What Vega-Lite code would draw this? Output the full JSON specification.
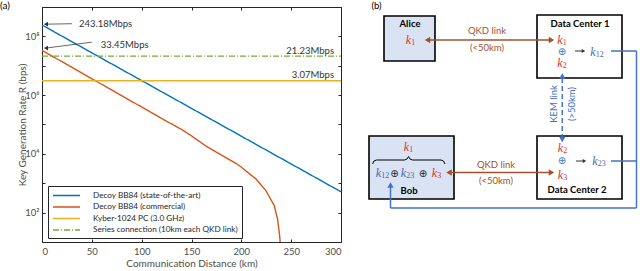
{
  "$schema": "https://vega.github.io/schema/vega-lite/v6.json",
  "background": "white",
  "padding": {"left": 0, "top": 1, "right": 0, "bottom": 0},
  "bounds": "flush",
  "spacing": 4,
  "config": {"view": {"stroke": null}, "font": "Lato"},
  "hconcat": [
    {
      "width": 299,
      "height": 235,
      "title": {"text": "(a)", "anchor": "start", "frame": "group", "dx": -42, "dy": 9, "fontSize": 10, "fontWeight": "normal", "font": "Lato", "color": "#000000", "offset": 0},
      "resolve": {"axis": {"x": "independent", "y": "independent"}},
      "layer": [
        {
          "data": {"values": [
            {"d": 0, "r": 243180000, "s": "Decoy BB84 (state-of-the-art)"},
            {"d": 50, "r": 27540000, "s": "Decoy BB84 (state-of-the-art)"},
            {"d": 100, "r": 3119000, "s": "Decoy BB84 (state-of-the-art)"},
            {"d": 150, "r": 353200, "s": "Decoy BB84 (state-of-the-art)"},
            {"d": 200, "r": 40000, "s": "Decoy BB84 (state-of-the-art)"},
            {"d": 250, "r": 4530, "s": "Decoy BB84 (state-of-the-art)"},
            {"d": 300, "r": 513, "s": "Decoy BB84 (state-of-the-art)"},
            {"d": 0, "r": 33450000, "s": "Decoy BB84 (commercial)"},
            {"d": 25, "r": 11000000, "s": "Decoy BB84 (commercial)"},
            {"d": 50, "r": 3620000, "s": "Decoy BB84 (commercial)"},
            {"d": 75, "r": 1190000, "s": "Decoy BB84 (commercial)"},
            {"d": 100, "r": 393000, "s": "Decoy BB84 (commercial)"},
            {"d": 125, "r": 129000, "s": "Decoy BB84 (commercial)"},
            {"d": 140, "r": 68000, "s": "Decoy BB84 (commercial)"},
            {"d": 150, "r": 41000, "s": "Decoy BB84 (commercial)"},
            {"d": 165, "r": 18000, "s": "Decoy BB84 (commercial)"},
            {"d": 178, "r": 10000, "s": "Decoy BB84 (commercial)"},
            {"d": 190, "r": 5800, "s": "Decoy BB84 (commercial)"},
            {"d": 198, "r": 4000, "s": "Decoy BB84 (commercial)"},
            {"d": 207, "r": 2270, "s": "Decoy BB84 (commercial)"},
            {"d": 214.5, "r": 1420, "s": "Decoy BB84 (commercial)"},
            {"d": 220, "r": 860, "s": "Decoy BB84 (commercial)"},
            {"d": 224.5, "r": 570, "s": "Decoy BB84 (commercial)"},
            {"d": 229, "r": 303, "s": "Decoy BB84 (commercial)"},
            {"d": 233, "r": 176, "s": "Decoy BB84 (commercial)"},
            {"d": 235, "r": 91, "s": "Decoy BB84 (commercial)"},
            {"d": 236.3, "r": 62, "s": "Decoy BB84 (commercial)"},
            {"d": 237.2, "r": 35, "s": "Decoy BB84 (commercial)"},
            {"d": 238, "r": 22, "s": "Decoy BB84 (commercial)"},
            {"d": 238.8, "r": 12, "s": "Decoy BB84 (commercial)"},
            {"d": 239.2, "r": 6, "s": "Decoy BB84 (commercial)"},
            {"d": 0, "r": 3070000, "s": "Kyber-1024 PC (3.0 GHz)"},
            {"d": 300, "r": 3070000, "s": "Kyber-1024 PC (3.0 GHz)"},
            {"d": 0, "r": 21230000, "s": "Series connection (10km each QKD link)"},
            {"d": 300, "r": 21230000, "s": "Series connection (10km each QKD link)"}
          ]},
          "mark": {"type": "line", "clip": true},
          "encoding": {
            "x": {"field": "d", "type": "quantitative", "scale": {"domain": [0, 300], "nice": false, "zero": false},
              "axis": {"orient": "bottom", "values": [0, 50, 100, 150, 200, 250, 300], "title": "Communication Distance (km)", "tickSize": -3, "labelPadding": 7, "labelFontSize": 9.5, "titleFontSize": 10, "titleFontWeight": "normal", "labelColor": "#4d4d4d", "titleColor": "#4d4d4d", "domainColor": "#262626", "tickColor": "#262626", "grid": false, "titlePadding": 3, "labelFont": "Lato", "titleFont": "Lato"}},
            "y": {"field": "r", "type": "quantitative", "scale": {"type": "log", "domain": [10, 1000000000], "nice": false},
              "axis": {"orient": "left", "values": [10, 100, 1000, 10000, 100000, 1000000, 10000000, 100000000, 1000000000], "labelExpr": "datum.value==100?'10²':datum.value==10000?'10⁴':datum.value==1000000?'10⁶':datum.value==100000000?'10⁸':''", "labelOverlap": false, "title": "Key Generation Rate R (bps)", "tickSize": -3, "labelPadding": 6, "labelFontSize": 9.5, "titleFontSize": 10, "titleFontWeight": "normal", "labelColor": "#4d4d4d", "titleColor": "#4d4d4d", "domainColor": "#262626", "tickColor": "#262626", "grid": false, "titlePadding": -3, "labelFont": "Lato", "titleFont": "Lato"}},
            "color": {"field": "s", "type": "nominal",
              "scale": {"domain": ["Decoy BB84 (state-of-the-art)", "Decoy BB84 (commercial)", "Kyber-1024 PC (3.0 GHz)", "Series connection (10km each QKD link)"], "range": ["#0072bd", "#d95319", "#edb120", "#77ac30"]},
              "legend": {"title": null, "orient": "none", "legendX": 6, "legendY": 179, "symbolType": "M-3,0H3", "symbolSize": 81, "symbolOffset": 9, "labelOffset": 21, "labelFontSize": 8.2, "labelFont": "Lato", "labelColor": "#262626", "strokeColor": "#262626", "fillColor": "white", "padding": 4, "rowPadding": 2.5, "symbolStrokeWidth": 1.6, "labelLimit": 300}},
            "strokeDash": {"field": "s", "type": "nominal",
              "scale": {"domain": ["Decoy BB84 (state-of-the-art)", "Decoy BB84 (commercial)", "Kyber-1024 PC (3.0 GHz)", "Series connection (10km each QKD link)"], "range": [[1, 0], [1, 0], [1, 0], [6, 2, 1, 2]]},
              "legend": {"title": null}},
            "strokeWidth": {"field": "s", "type": "nominal",
              "scale": {"domain": ["Decoy BB84 (state-of-the-art)", "Decoy BB84 (commercial)", "Kyber-1024 PC (3.0 GHz)", "Series connection (10km each QKD link)"], "range": [1.4, 1.4, 2, 1.2]},
              "legend": null}
          }
        },
        {
          "data": {"values": [
            {"d": 30, "r": 270000000, "d2": 4, "r2": 260000000},
            {"d": 50, "r": 63500000, "d2": 4, "r2": 40000000}
          ]},
          "mark": {"type": "rule", "color": "#404040", "strokeWidth": 0.8},
          "encoding": {
            "x": {"field": "d", "type": "quantitative", "axis": {"orient": "top", "values": [0, 50, 100, 150, 200, 250, 300], "labels": false, "tickSize": -3, "title": null, "domainColor": "#262626", "tickColor": "#262626", "grid": false}},
            "y": {"field": "r", "type": "quantitative", "axis": {"orient": "right", "values": [10, 100, 1000, 10000, 100000, 1000000, 10000000, 100000000, 1000000000], "labels": false, "tickSize": -3, "title": null, "domainColor": "#262626", "tickColor": "#262626", "grid": false}},
            "x2": {"field": "d2"},
            "y2": {"field": "r2"}
          }
        },
        {
          "data": {"values": [
            {"d": 4, "r": 260000000},
            {"d": 4, "r": 40000000}
          ]},
          "mark": {"type": "point", "shape": "triangle-left", "filled": true, "size": 22, "color": "#303030", "opacity": 1},
          "encoding": {
            "x": {"field": "d", "type": "quantitative", "axis": null},
            "y": {"field": "r", "type": "quantitative", "axis": null}
          }
        },
        {
          "data": {"values": [
            {"d": 37, "r": 266000000, "t": "243.18Mbps"},
            {"d": 59, "r": 52600000, "t": "33.45Mbps"}
          ]},
          "mark": {"type": "text", "align": "left", "baseline": "middle", "fontSize": 9.5, "font": "Lato", "color": "#333333"},
          "encoding": {
            "x": {"field": "d", "type": "quantitative", "axis": null},
            "y": {"field": "r", "type": "quantitative", "axis": null},
            "text": {"field": "t"}
          }
        },
        {
          "data": {"values": [
            {"d": 293, "r": 31400000, "t": "21.23Mbps"},
            {"d": 293, "r": 5000000, "t": "3.07Mbps"}
          ]},
          "mark": {"type": "text", "align": "right", "baseline": "middle", "fontSize": 9.5, "font": "Lato", "color": "#333333"},
          "encoding": {
            "x": {"field": "d", "type": "quantitative", "axis": null},
            "y": {"field": "r", "type": "quantitative", "axis": null},
            "text": {"field": "t"}
          }
        }
      ]
    },
    {
      "width": 294,
      "height": 263,
      "layer": [
        {
          "data": {"values": [
            {"x": 385, "x2": 436, "y": 17, "y2": 62, "f": "#dae3f3"},
            {"x": 538, "x2": 623, "y": 16, "y2": 79, "f": "#ffffff"},
            {"x": 370, "x2": 455, "y": 137, "y2": 200, "f": "#dae3f3"},
            {"x": 538, "x2": 623, "y": 137, "y2": 200, "f": "#ffffff"}
          ]},
          "mark": {"type": "rect", "stroke": "#000000", "strokeWidth": 1.6},
          "encoding": {
            "x": {"field": "x", "type": "quantitative", "scale": {"domain": [346, 640], "nice": false, "zero": false}, "axis": null},
            "x2": {"field": "x2"},
            "y": {"field": "y", "type": "quantitative", "scale": {"domain": [8, 271], "reverse": true, "nice": false, "zero": false}, "axis": null},
            "y2": {"field": "y2"},
            "fill": {"field": "f", "type": "nominal", "scale": null}
          }
        },
        {
          "data": {"values": [
            {"x": 430, "y": 41, "x2": 551, "y2": 41, "c": "#a0522d", "w": 1.6},
            {"x": 452, "y": 173.5, "x2": 551, "y2": 173.5, "c": "#a0522d", "w": 1.6},
            {"x": 612, "y": 52, "x2": 637.5, "y2": 52, "c": "#4472c4", "w": 1.5},
            {"x": 637.5, "y": 52, "x2": 637.5, "y2": 209, "c": "#4472c4", "w": 1.5},
            {"x": 637.5, "y": 209, "x2": 391.5, "y2": 209, "c": "#4472c4", "w": 1.5},
            {"x": 391.5, "y": 209, "x2": 391.5, "y2": 188, "c": "#4472c4", "w": 1.5},
            {"x": 612, "y": 162, "x2": 637.5, "y2": 162, "c": "#4472c4", "w": 1.5},
            {"x": 576, "y": 52, "x2": 583, "y2": 52, "c": "#333333", "w": 1},
            {"x": 577, "y": 162, "x2": 584, "y2": 162, "c": "#333333", "w": 1}
          ]},
          "mark": {"type": "rule"},
          "encoding": {
            "x": {"field": "x", "type": "quantitative"},
            "y": {"field": "y", "type": "quantitative"},
            "x2": {"field": "x2"},
            "y2": {"field": "y2"},
            "color": {"field": "c", "type": "nominal", "scale": null},
            "strokeWidth": {"field": "w", "type": "quantitative", "scale": null}
          }
        },
        {
          "data": {"values": [
            {"x": 563.3, "y": 79, "x2": 563.3, "y2": 138}
          ]},
          "mark": {"type": "rule", "color": "#4472c4", "strokeWidth": 1.5, "strokeDash": [5, 3]},
          "encoding": {
            "x": {"field": "x", "type": "quantitative"},
            "y": {"field": "y", "type": "quantitative"},
            "x2": {"field": "x2"},
            "y2": {"field": "y2"}
          }
        },
        {
          "data": {"values": [
            {"x": 373.5, "y": 165, "o": 1},
            {"x": 375, "y": 162, "o": 2},
            {"x": 377.5, "y": 161, "o": 3},
            {"x": 405.5, "y": 161, "o": 4},
            {"x": 408, "y": 160, "o": 5},
            {"x": 409.5, "y": 157.5, "o": 6},
            {"x": 411, "y": 160, "o": 7},
            {"x": 413.5, "y": 161, "o": 8},
            {"x": 442, "y": 161, "o": 9},
            {"x": 444.5, "y": 162, "o": 10},
            {"x": 446, "y": 165, "o": 11}
          ]},
          "mark": {"type": "line", "color": "#000000", "strokeWidth": 1},
          "encoding": {
            "x": {"field": "x", "type": "quantitative"},
            "y": {"field": "y", "type": "quantitative"},
            "order": {"field": "o", "type": "quantitative"}
          }
        },
        {
          "data": {"values": [
            {"x": 428.5, "y": 41, "s": "triangle-left", "c": "#a0522d", "z": 40},
            {"x": 552.5, "y": 41, "s": "triangle-right", "c": "#a0522d", "z": 40},
            {"x": 450, "y": 173.5, "s": "triangle-left", "c": "#a0522d", "z": 40},
            {"x": 552.5, "y": 173.5, "s": "triangle-right", "c": "#a0522d", "z": 40},
            {"x": 563.3, "y": 77, "s": "triangle-up", "c": "#4472c4", "z": 40},
            {"x": 563.3, "y": 140.5, "s": "triangle-down", "c": "#4472c4", "z": 40},
            {"x": 391.5, "y": 186, "s": "triangle-up", "c": "#4472c4", "z": 40},
            {"x": 584.5, "y": 52, "s": "triangle-right", "c": "#333333", "z": 16},
            {"x": 585.5, "y": 162, "s": "triangle-right", "c": "#333333", "z": 16}
          ]},
          "mark": {"type": "point", "filled": true, "opacity": 1},
          "encoding": {
            "x": {"field": "x", "type": "quantitative"},
            "y": {"field": "y", "type": "quantitative"},
            "shape": {"field": "s", "type": "nominal", "scale": null},
            "color": {"field": "c", "type": "nominal", "scale": null},
            "size": {"field": "z", "type": "quantitative", "scale": null}
          }
        },
        {
          "data": {"values": [
            {"x": 377.5, "y": 7, "t": "(b)", "c": "#000000"},
            {"x": 488, "y": 32, "t": "QKD link", "c": "#a0522d"},
            {"x": 488, "y": 49, "t": "(<50km)", "c": "#a0522d"},
            {"x": 497, "y": 165.5, "t": "QKD link", "c": "#a0522d"},
            {"x": 497, "y": 182, "t": "(<50km)", "c": "#a0522d"}
          ]},
          "mark": {"type": "text", "align": "center", "baseline": "middle", "fontSize": 9.5, "font": "Lato"},
          "encoding": {
            "x": {"field": "x", "type": "quantitative"},
            "y": {"field": "y", "type": "quantitative"},
            "text": {"field": "t"},
            "color": {"field": "c", "type": "nominal", "scale": null}
          }
        },
        {
          "data": {"values": [
            {"x": 555, "y": 105, "t": "KEM link"},
            {"x": 573, "y": 105, "t": "(>50km)"}
          ]},
          "mark": {"type": "text", "align": "center", "baseline": "middle", "fontSize": 9.5, "font": "Lato", "angle": 270, "color": "#4472c4"},
          "encoding": {
            "x": {"field": "x", "type": "quantitative"},
            "y": {"field": "y", "type": "quantitative"},
            "text": {"field": "t"}
          }
        },
        {
          "data": {"values": [
            {"x": 411, "y": 25, "t": "Alice"},
            {"x": 581, "y": 25, "t": "Data Center 1"},
            {"x": 410, "y": 191.5, "t": "Bob"},
            {"x": 578, "y": 191, "t": "Data Center 2"}
          ]},
          "mark": {"type": "text", "align": "center", "baseline": "middle", "fontSize": 9.5, "font": "Lato", "fontWeight": "bold", "color": "#000000"},
          "encoding": {
            "x": {"field": "x", "type": "quantitative"},
            "y": {"field": "y", "type": "quantitative"},
            "text": {"field": "t"}
          }
        },
        {
          "data": {"values": [
            {"x": 409.5, "y": 41, "c": "#e0302a"},
            {"x": 561, "y": 41, "c": "#e0302a"},
            {"x": 594, "y": 52.5, "c": "#4a6aa8"},
            {"x": 561, "y": 64, "c": "#e0302a"},
            {"x": 407.5, "y": 148, "c": "#e0302a"},
            {"x": 379.5, "y": 174, "c": "#4a6aa8"},
            {"x": 404.5, "y": 174, "c": "#4a6aa8"},
            {"x": 435.5, "y": 174, "c": "#e0302a"},
            {"x": 561.5, "y": 149, "c": "#e0302a"},
            {"x": 561.5, "y": 175.5, "c": "#e0302a"},
            {"x": 596, "y": 161.5, "c": "#4a6aa8"}
          ]},
          "mark": {"type": "text", "align": "center", "baseline": "middle", "fontSize": 12, "font": "Liberation Serif", "fontStyle": "italic", "text": "k"},
          "encoding": {
            "x": {"field": "x", "type": "quantitative"},
            "y": {"field": "y", "type": "quantitative"},
            "color": {"field": "c", "type": "nominal", "scale": null}
          }
        },
        {
          "data": {"values": [
            {"x": 412.3, "y": 44, "t": "1", "c": "#e0302a"},
            {"x": 563.8, "y": 44, "t": "1", "c": "#e0302a"},
            {"x": 596.8, "y": 55.5, "t": "12", "c": "#4a6aa8"},
            {"x": 563.8, "y": 67, "t": "2", "c": "#e0302a"},
            {"x": 410.3, "y": 151, "t": "1", "c": "#e0302a"},
            {"x": 382.3, "y": 177, "t": "12", "c": "#4a6aa8"},
            {"x": 407.3, "y": 177, "t": "23", "c": "#4a6aa8"},
            {"x": 438.3, "y": 177, "t": "3", "c": "#e0302a"},
            {"x": 564.3, "y": 152, "t": "2", "c": "#e0302a"},
            {"x": 564.3, "y": 178.5, "t": "3", "c": "#e0302a"},
            {"x": 598.8, "y": 164.5, "t": "23", "c": "#4a6aa8"}
          ]},
          "mark": {"type": "text", "align": "left", "baseline": "middle", "fontSize": 8, "font": "Liberation Serif"},
          "encoding": {
            "x": {"field": "x", "type": "quantitative"},
            "y": {"field": "y", "type": "quantitative"},
            "text": {"field": "t"},
            "color": {"field": "c", "type": "nominal", "scale": null}
          }
        },
        {
          "data": {"values": [
            {"x": 563, "y": 52.5, "t": "⊕", "c": "#4472c4"},
            {"x": 395.5, "y": 174.5, "t": "⊕", "c": "#222222"},
            {"x": 424, "y": 174.5, "t": "⊕", "c": "#222222"},
            {"x": 563, "y": 162.3, "t": "⊕", "c": "#4472c4"}
          ]},
          "mark": {"type": "text", "align": "center", "baseline": "middle", "fontSize": 10, "font": "DejaVu Sans"},
          "encoding": {
            "x": {"field": "x", "type": "quantitative"},
            "y": {"field": "y", "type": "quantitative"},
            "text": {"field": "t"},
            "color": {"field": "c", "type": "nominal", "scale": null}
          }
        }
      ]
    }
  ]
}
